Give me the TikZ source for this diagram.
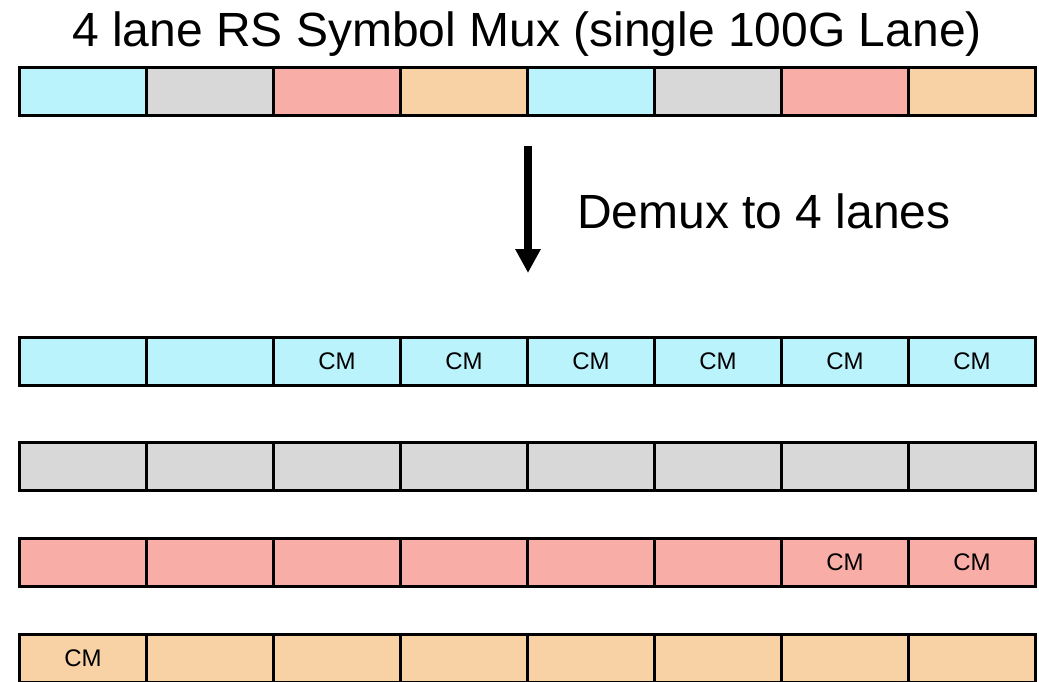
\documentclass[tikz,border=0pt]{standalone}
\usepackage{fontspec}
\setmainfont{Liberation Sans}
\usetikzlibrary{arrows.meta}
\definecolor{cy}{HTML}{BBF3FC}
\definecolor{gr}{HTML}{D8D8D8}
\definecolor{rd}{HTML}{F8ADA7}
\definecolor{og}{HTML}{F8D1A5}
\tikzset{
  cell/.style={draw=black, line width=3pt, minimum width=127pt, minimum height=48pt, inner sep=0pt, anchor=north west, font=\fontsize{24}{26}\selectfont, text=black},
}
\begin{document}
\begin{tikzpicture}[x=1pt,y=-1pt]
\useasboundingbox (0,0) rectangle (1039,681);
\node[font=\fontsize{48}{52}\selectfont, anchor=base] (title) at (527,46) {4 lane RS Symbol Mux (single 100G Lane)};
% top row
\foreach \i/\c in {0/cy,1/gr,2/rd,3/og,4/cy,5/gr,6/rd,7/og}{
  \node[cell, fill=\c] (t\i) at ({18+127*\i},66) {};
}
% arrow
\coordinate (as) at (528,146);
\coordinate (ae) at (528,273);
\draw[line width=8pt, -{Triangle[length=24pt,width=24pt]}] (as) -- (ae);
\node[font=\fontsize{48}{52}\selectfont, anchor=base west, inner sep=0pt] (demux) at (577,228) {Demux to 4 lanes};
% lane rows
\foreach \i/\t in {0/,1/,2/CM,3/CM,4/CM,5/CM,6/CM,7/CM}{
  \node[cell, fill=cy] (a\i) at ({18+127*\i},336) {\t};
}
\foreach \i in {0,...,7}{
  \node[cell, fill=gr] (b\i) at ({18+127*\i},441) {};
}
\foreach \i/\t in {0/,1/,2/,3/,4/,5/,6/CM,7/CM}{
  \node[cell, fill=rd] (c\i) at ({18+127*\i},537) {\t};
}
\foreach \i/\t in {0/CM,1/,2/,3/,4/,5/,6/,7/}{
  \node[cell, fill=og] (d\i) at ({18+127*\i},633) {\t};
}
\end{tikzpicture}
\end{document}
